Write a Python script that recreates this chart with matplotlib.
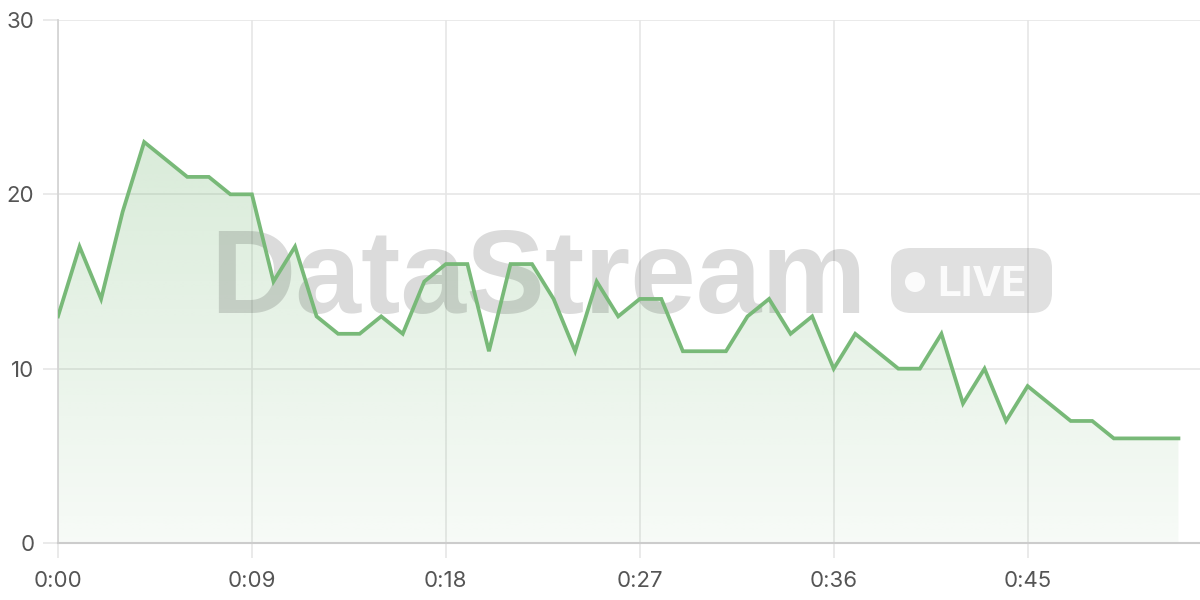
import numpy as np
import matplotlib
matplotlib.use("Agg")
import matplotlib.pyplot as plt
from matplotlib.patches import FancyBboxPatch, Circle
from matplotlib.colors import to_rgb

# one reading per second
seconds = list(range(53))
values = [13, 17, 14, 19, 23, 22, 21, 21, 20, 20,
          15, 17, 13, 12, 12, 13, 12, 15, 16, 16,
          11, 16, 16, 14, 11, 15, 13, 14, 14, 11,
          11, 11, 13, 14, 12, 13, 10, 12, 11, 10,
          10, 12, 8, 10, 7, 9, 8, 7, 7, 6,
          6, 6, 6]
x_ticks = [0, 9, 18, 27, 36, 45]
y_ticks = [0, 10, 20, 30]

line_color = '#78b978'
grid_color = '#e6e6e6'
label_color = '#555555'

plt.rcParams['font.family'] = ['Inter', 'DejaVu Sans']

fig = plt.figure(figsize=(12, 6), dpi=100)
ax = fig.add_axes([58 / 1200, 57 / 600, 1 - 58 / 1200, (543 - 20) / 600])

x = np.array(seconds)
y = np.array(values)

# gradient fill under the line
poly = ax.fill_between(x, 0, y, facecolor='none', edgecolor='none')
rgb = to_rgb(line_color)
grad = np.zeros((256, 2, 4))
grad[..., 0], grad[..., 1], grad[..., 2] = rgb
grad[..., 3] = np.linspace(0.28, 0.06, 256)[:, None]
img = ax.imshow(grad, extent=[x.min(), x.max(), 0, y.max()], origin='upper',
                aspect='auto', zorder=1, interpolation='bilinear')
img.set_clip_path(poly.get_paths()[0], transform=ax.transData)

ax.plot(x, y, color=line_color, lw=2.7, zorder=5, solid_joinstyle='miter')

# watermark
tr = fig.dpi_scale_trans
ax.text(2.10, 2.87, 'DataStream', transform=tr, fontsize=85, fontweight='bold',
        family='Liberation Sans', color='#000000', alpha=0.14, ha='left', va='baseline', zorder=3)
badge = FancyBboxPatch((8.91, 2.87), 1.61, 0.65, boxstyle='round,pad=0,rounding_size=0.2',
                       transform=tr, facecolor='#000000', edgecolor='none', alpha=0.12, zorder=3)
ax.add_patch(badge)
ax.add_patch(Circle((9.15, 3.18), 0.10, transform=tr, facecolor='white', edgecolor='none',
                    alpha=0.9, zorder=3.5))
ax.text(9.37, 3.04, 'LIVE', transform=tr, fontsize=31, fontweight='semibold', family='Roboto',
        color='white', alpha=0.9, ha='left', va='baseline', zorder=3.5)

ax.set_xlim(0, 53)
ax.set_ylim(0, 30)
ax.set_xticks(x_ticks)
ax.set_xticklabels([f"{t // 60}:{t % 60:02d}" for t in x_ticks])
ax.set_yticks(y_ticks)

ax.grid(True, color=grid_color, lw=1.2, zorder=0)
ax.set_axisbelow(True)
for side in ['top', 'right']:
    ax.spines[side].set_visible(False)
ax.spines['left'].set_color('#d4d4d4')
ax.spines['bottom'].set_color('#cccccc')
ax.spines['left'].set_linewidth(1.3)
ax.spines['bottom'].set_linewidth(1.5)

ax.tick_params(axis='y', length=11, width=1.2, color=grid_color, pad=6,
               labelsize=16, labelcolor=label_color)
ax.tick_params(axis='x', length=11, width=1.2, color=grid_color, pad=9,
               labelsize=16, labelcolor=label_color)

fig.savefig('out.png', dpi=100)
